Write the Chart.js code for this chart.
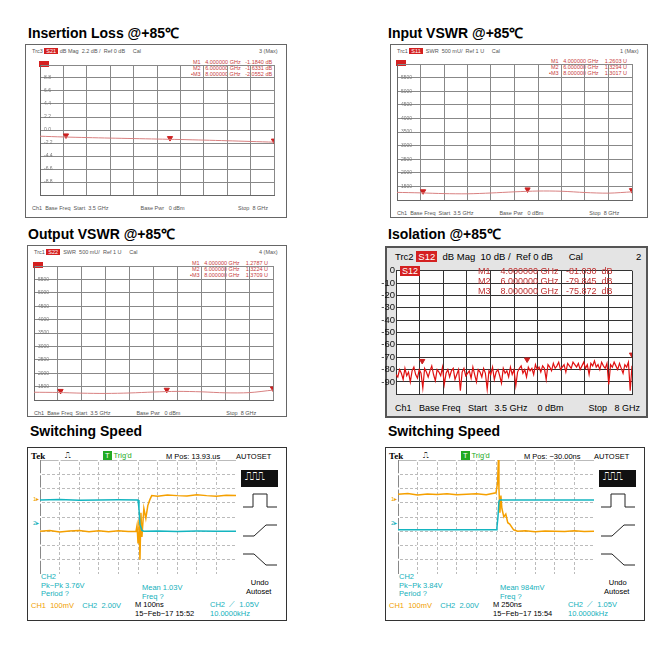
<!DOCTYPE html>
<html>
<head>
<meta charset="utf-8">
<script src="https://cdn.jsdelivr.net/npm/chart.js@4.4.1/dist/chart.umd.min.js"></script>
<style>
  body { margin: 0; width: 668px; height: 647px; background: #fff; position: relative; font-family: "Liberation Sans", Arial, sans-serif; overflow: hidden; }
  .abs { position: absolute; white-space: pre; }
  .title { font-weight: bold; font-size: 14px; color: #000; }
  .box { position: absolute; box-sizing: border-box; }
  .vna { border: 1px solid #666; background: #fff; }
  .small { font-size: 5.5px; color: #555; }
  .red { color: #c84040; }
  .tag { background: #d42020; color: #fff; padding: 0 2px; }
  .cw { position: absolute; }
  .scope { border: 1px solid #333; background: #fff; }
  .st { font-size: 7.5px; }
  .cy { color: #14b0bb; }
  .or { color: #f0a000; }
</style>
</head>
<body>
<script>
// ---- data ----
const freqs = [3.5, 3.95, 4.4, 4.85, 5.3, 5.75, 6.2, 6.65, 7.1, 7.55, 8.0];
const markerFreqs = [4, 6, 8];

const lossValues = [-1.05, -1.18, -1.28, -1.37, -1.45, -1.53, -1.61, -1.71, -1.82, -1.94, -2.06];
const lossMarkers = [-1.184, -1.633, -2.055];
const lossTicks = ['8.8', '6.6', '4.4', '2.2', '0.0', '-2.2', '-4.4', '-6.6', '-8.8'];

const inVswrValues = [1280, 1262, 1235, 1228, 1258, 1300, 1330, 1322, 1275, 1252, 1300];
const inVswrMarkers = [1260, 1329, 1302];
const vswrTicks = ['5500', '5000', '4500', '4000', '3500', '3000', '2500', '2000', '1500'];

const outVswrValues = [1290, 1280, 1255, 1245, 1262, 1298, 1322, 1305, 1268, 1275, 1370];
const outVswrMarkers = [1279, 1322, 1370];

const isoValues = [-84,-86,-80,-83,-88,-79,-85,-82,-90,-81,-78,-84,-87,-80,-83,-95,-79,-82,-86,-81,
  -77,-84,-89,-80,-82,-85,-78,-92,-83,-80,-86,-81,-79,-88,-84,-80,-97,-82,-79,-85,
  -83,-81,-87,-78,-84,-90,-80,-82,-86,-79,-83,-96,-81,-84,-78,-88,-82,-80,-85,-91,
  -79,-83,-81,-86,-78,-84,-80,-93,-82,-79,-77,-83,-80,-86,-78,-81,-79,-84,-76,-80,
  -78,-82,-77,-79,-88,-76,-78,-81,-75,-79,-77,-74,-80,-78,-76,-82,-75,-77,-79,-74,
  -76,-78,-75,-80,-77,-74,-79,-76,-84,-75,-77,-73,-78,-76,-80,-74,-77,-79,-75,-92,
  -76,-78,-74,-77,-80,-75,-79,-83,-76,-78,-74,-97,-77];
const isoMarkers = [-81.03, -79.845, -75.872];
const isoTicks = ['0', '-10', '-20', '-30', '-40', '-50', '-60', '-70', '-80', '-90'];

// scope 1 (divisions: x 0..10, y 0..8)
const s1CyanX = [0, 1, 2, 3, 4, 5, 5.05, 5.1, 5.2, 5.3, 6, 7, 8, 9, 10];
const s1CyanY = [5.2, 5.22, 5.18, 5.2, 5.21, 5.19, 4.6, 3.5, 3.05, 3.0, 3.02, 2.99, 3.01, 3.0, 3.0];
const s1OrX = [0, 0.5, 1, 1.5, 2, 2.5, 3, 3.5, 4, 4.5, 4.9, 4.95, 5.0, 5.05, 5.1, 5.15, 5.2, 5.3, 5.4, 5.5, 5.6, 5.7, 6, 6.5, 7, 7.5, 8, 8.5, 9, 9.5, 10];
const s1OrY = [3.0, 3.05, 2.95, 3.02, 3.06, 2.97, 3.03, 2.96, 3.04, 2.98, 3.0, 3.4, 2.2, 3.8, 1.0, 4.3, 2.6, 4.6, 3.9, 4.8, 5.2, 5.5, 5.45, 5.55, 5.5, 5.48, 5.56, 5.5, 5.46, 5.53, 5.5];
// scope 2
const s2CyanX = [0, 1, 2, 3, 4, 5, 5.05, 5.1, 5.15, 5.2, 6, 7, 8, 9, 10];
const s2CyanY = [3.1, 3.1, 3.1, 3.1, 3.1, 3.1, 3.3, 4.0, 5.1, 5.2, 5.2, 5.2, 5.2, 5.2, 5.2];
const s2OrX = [0, 0.5, 1, 1.5, 2, 2.5, 3, 3.5, 4, 4.5, 5.0, 5.08, 5.12, 5.15, 5.2, 5.25, 5.3, 5.4, 5.5, 5.6, 5.7, 5.9, 6.1, 6.5, 7, 7.5, 8, 8.5, 9, 9.5, 10];
const s2OrY = [5.6, 5.65, 5.55, 5.62, 5.58, 5.64, 5.57, 5.6, 5.63, 5.56, 5.7, 6.4, 8.0, 6.0, 4.3, 5.5, 4.6, 4.0, 4.2, 3.6, 3.5, 3.1, 3.0, 3.03, 2.97, 3.02, 3.0, 2.98, 3.04, 2.99, 3.0];

// ---- helpers ----
function el(cls, x, y, html, style) {
  const d = document.createElement('div');
  d.className = cls;
  d.style.left = x + 'px';
  d.style.top = y + 'px';
  if (style) Object.assign(d.style, style);
  d.innerHTML = html;
  document.body.appendChild(d);
  return d;
}

function canvasAt(x, y, w, h) {
  const wrap = el('cw', x, y, '', { width: w + 'px', height: h + 'px' });
  const c = document.createElement('canvas');
  wrap.appendChild(c);
  return c;
}

function pts(xs, ys) { return xs.map((x, i) => ({ x: x, y: ys[i] })); }

function vnaChart(canvas, values, markers, yMin, yMax, step, tickLabels) {
  const markerPts = markers.map((v, i) => ({ x: markerFreqs[i], y: v + (yMax - yMin) * 0.012 }));
  new Chart(canvas, {
    type: 'line',
    data: {
      datasets: [
        { data: pts(freqs, values), borderColor: '#d88080', borderWidth: 1, pointRadius: 0, tension: 0.3 },
        { data: markerPts, showLine: false, pointStyle: 'triangle', rotation: 180, pointRadius: 3,
          backgroundColor: '#cc2020', borderColor: '#cc2020' }
      ]
    },
    options: {
      animation: false, responsive: true, maintainAspectRatio: false,
      layout: { padding: 0 },
      plugins: { legend: { display: false }, tooltip: { enabled: false } },
      scales: {
        x: { type: 'linear', min: 3.5, max: 8, ticks: { display: false, stepSize: 0.45 },
             grid: { color: '#888', drawTicks: false }, border: { color: '#666' } },
        y: { min: yMin, max: yMax, afterFit: s => { s.width = 0; },
             ticks: { stepSize: step, mirror: true, padding: 4, color: '#777', font: { size: 5 }, autoSkip: false,
               callback: (v, i, arr) => (i === 0 || i === arr.length - 1) ? '' : tickLabels[arr.length - 2 - i] },
             grid: { color: '#888', drawTicks: false }, border: { color: '#666' } }
      }
    }
  });
}

function vnaPanel(bx, by, bw, bh, px, py, pw, ph, head, right, marks, foot, values, markers, yMin, yMax, step, ticks) {
  el('box vna', bx, by, '', { width: bw + 'px', height: bh + 'px' });
  el('abs small', bx + 7, by + 4, head);
  el('abs small', bx + bw - 28, by + 4, right);
  el('abs small red', px + pw - 88, py + 1, marks.join('<br>'), { lineHeight: '6px', textAlign: 'right' });
  el('abs small', px + 4, py + 3, '<span class="tag">&nbsp;&nbsp;&nbsp;&nbsp;</span>');
  el('abs small', bx + 7, py + ph + 3, foot);
  vnaChart(canvasAt(px, py, pw, ph), values, markers, yMin, yMax, step, ticks);
}

// ---- titles ----
el('abs title', 28, 23, 'Insertion Loss @+85℃');
el('abs title', 388, 23, 'Input VSWR @+85℃');
el('abs title', 28, 224, 'Output VSWR @+85℃');
el('abs title', 388, 224, 'Isolation @+85℃');
el('abs title', 30, 423, 'Switching Speed');
el('abs title', 388, 423, 'Switching Speed');

// ---- panel 1: insertion loss ----
vnaPanel(25, 44, 262, 174, 35, 58, 244, 144,
  'Trc3 <span class="tag">S21</span> dB Mag  2.2 dB /  Ref 0 dB     Cal', '3 (Max)',
  ['M1   4.000000 GHz   -1.1840 dB', 'M2   6.000000 GHz   -1.6331 dB', '•M3   8.000000 GHz   -2.0552 dB'],
  'Ch1  Base Freq  Start  3.5 GHz                     Base Pwr   0 dBm                                   Stop  8 GHz',
  lossValues, lossMarkers, -11, 11, 2.2, lossTicks);

// ---- panel 2: input VSWR ----
vnaPanel(390, 44, 258, 174, 392, 57, 245, 150,
  'Trc1 <span class="tag">S11</span>  SWR  500 mU/  Ref 1 U     Cal', '1 (Max)',
  ['M1   4.000000 GHz    1.2603 U', 'M2   6.000000 GHz    1.3294 U', '•M3   8.000000 GHz    1.3017 U'],
  'Ch1  Base Freq  Start  3.5 GHz                 Base Pwr   0 dBm                              Stop  8 GHz',
  inVswrValues, inVswrMarkers, 1000, 6000, 500, vswrTicks);

// ---- panel 3: output VSWR ----
vnaPanel(27, 245, 260, 172, 29, 259, 249, 148,
  'Trc1 <span class="tag">S22</span>  SWR  500 mU/  Ref 1 U     Cal', '4 (Max)',
  ['M1   4.000000 GHz    1.2787 U', 'M2   6.000000 GHz    1.3224 U', '•M3   8.000000 GHz    1.3709 U'],
  'Ch1  Base Freq  Start  3.5 GHz                 Base Pwr   0 dBm                              Stop  8 GHz',
  outVswrValues, outVswrMarkers, 1000, 6000, 500, vswrTicks);

// ---- panel 4: isolation ----
el('box', 385, 246, '', { width: '263px', height: '172px', background: '#e4e4e4', border: '2px solid #555' });
el('abs', 395, 251, 'Trc2 <span style="background:#d42020;color:#fff;padding:0 2px">S12</span>  dB Mag  10 dB /  Ref 0 dB      Cal', { fontSize: '9.5px' });
el('abs', 636, 251, '2', { fontSize: '9.5px' });
el('abs', 395, 403, 'Ch1   Base Freq   Start   3.5 GHz    0 dBm          Stop   8 GHz', { fontSize: '9px' });
const isoFreqs = isoValues.map((v, i) => 3.5 + i * 4.5 / (isoValues.length - 1));
new Chart(canvasAt(376, 264, 261, 137), {
  type: 'line',
  data: {
    datasets: [
      { data: pts(isoFreqs, isoValues), borderColor: '#e01010', borderWidth: 1.2, pointRadius: 0 },
      { data: isoMarkers.map((v, i) => ({ x: markerFreqs[i], y: v + 8 })), showLine: false, pointStyle: 'triangle',
        rotation: 180, pointRadius: 3, backgroundColor: '#cc2020', borderColor: '#cc2020' }
    ]
  },
  options: {
    animation: false, responsive: true, maintainAspectRatio: false,
    layout: { padding: 0 },
    plugins: { legend: { display: false }, tooltip: { enabled: false } },
    scales: {
      x: { type: 'linear', min: 3.5, max: 8, ticks: { display: false, stepSize: 0.45 },
           grid: { color: '#333', drawTicks: false }, border: { color: '#333' } },
      y: { min: -100, max: 0, afterFit: s => { s.width = 20; },
           ticks: { stepSize: 10, color: '#111', font: { size: 9.5 }, padding: 1, autoSkip: false,
             callback: v => { const k = Math.round(-v / 10); return k < isoTicks.length ? isoTicks[k] : ''; } },
           grid: { color: '#333', drawTicks: false }, border: { color: '#333' } }
    }
  },
  plugins: [{
    id: 'plotBg',
    beforeDraw(chart) {
      const { ctx, chartArea: a } = chart;
      ctx.save(); ctx.fillStyle = '#fff'; ctx.fillRect(a.left, a.top, a.right - a.left, a.bottom - a.top); ctx.restore();
    }
  }]
});
el('abs', 400, 266, 'S12', { fontSize: '9px', background: '#d42020', color: '#fff', padding: '0 2px' });
el('abs', 478, 266, 'M1    4.000000 GHz   -81.030  dB<br>M2    6.000000 GHz   -79.845  dB<br>M3    8.000000 GHz   -75.872  dB',
  { fontSize: '9px', color: '#c03030', lineHeight: '10px', textAlign: 'right' });

// ---- scopes ----
function scope(bx, cyanX, cyanY, orX, orY, mpos, peak, mean, mTime, stamp) {
  const by = 447;
  el('box scope', bx, by, '', { width: '260px', height: '174px' });
  el('abs', bx + 4, by + 4, 'Tek', { fontSize: '9px', fontWeight: 'bold', fontFamily: '"Liberation Serif", serif' });
  el('abs st', bx + 38, by + 4, '⎍', { color: '#333' });
  el('abs st', bx + 76, by + 4, '<span style="background:#2a2;color:#fff;padding:0 2px">T</span> <span style="color:#2a2">Trig\'d</span>');
  el('abs st', bx + 139, by + 5, 'M Pos: ' + mpos);
  el('abs st', bx + 209, by + 5, 'AUTOSET');
  el('abs st', bx + 6, by + 48, '1▸', { color: '#f0a000', fontSize: '6px' });
  el('abs st', bx + 6, by + 72, '2▸', { color: '#14b0bb', fontSize: '6px' });
  // menu icons
  el('box', bx + 214, by + 23, '', { width: '37px', height: '17px', background: '#111' });
  el('abs', bx + 218, by + 23, '⎍⎍⎍', { color: '#fff', fontSize: '11px', letterSpacing: '-2px' });
  el('abs', bx + 215, by + 44, '<svg width="36" height="18"><polyline points="1,16 11,16 11,3 25,3 25,16 35,16" fill="none" stroke="#222"/></svg>');
  el('abs', bx + 215, by + 75, '<svg width="36" height="16"><polyline points="1,14 12,14 24,3 35,3" fill="none" stroke="#222"/></svg>');
  el('abs', bx + 215, by + 104, '<svg width="36" height="16"><polyline points="1,3 12,3 24,14 35,14" fill="none" stroke="#222"/></svg>');
  el('abs st', bx + 219, by + 131, ' Undo<br>Autoset', { textAlign: 'center', lineHeight: '9px' });
  el('abs st cy', bx + 14, by + 126, 'CH2<br>Pk−Pk ' + peak + '<br>Period ?', { lineHeight: '8.5px' });
  el('abs st cy', bx + 115, by + 137, 'Mean ' + mean + '<br>Freq ?', { lineHeight: '8.5px' });
  el('abs st', bx + 4, by + 154, '<span class="or">CH1  100mV</span>    <span class="cy">CH2  2.00V</span>', {});
  el('abs st', bx + 108, by + 154, 'M ' + mTime + '<br>15−Feb−17 ' + stamp, { lineHeight: '8.5px' });
  el('abs st cy', bx + 183, by + 154, 'CH2  ⟋  1.05V<br>10.0000kHz', { lineHeight: '8.5px' });
  new Chart(canvasAt(bx + 13, by + 13, 196, 114), {
    type: 'line',
    data: {
      datasets: [
        { data: pts(cyanX, cyanY), borderColor: '#14b5c0', borderWidth: 1.5, pointRadius: 0 },
        { data: pts(orX, orY), borderColor: '#f5a000', borderWidth: 1.5, pointRadius: 0 }
      ]
    },
    options: {
      animation: false, responsive: true, maintainAspectRatio: false,
      layout: { padding: 0 },
      plugins: { legend: { display: false }, tooltip: { enabled: false } },
      scales: {
        x: { type: 'linear', min: 0, max: 10, ticks: { display: false, stepSize: 1 },
             grid: { color: '#bbb', drawTicks: false }, border: { color: '#888' } },
        y: { min: 0, max: 8, ticks: { display: false, stepSize: 1 },
             grid: { color: '#bbb', drawTicks: false }, border: { color: '#888' } }
      }
    },
    plugins: [{
      id: 'dots',
      beforeDatasetsDraw(chart) {
        // dotted look for the grid: overwrite solid lines with white gaps
        const { ctx, chartArea: a } = chart;
        ctx.save();
        ctx.strokeStyle = '#fff';
        ctx.lineWidth = 2;
        ctx.setLineDash([2, 3]);
        chart.scales.x.ticks.forEach(t => {
          const x = chart.scales.x.getPixelForValue(t.value);
          if (x > a.left + 1 && x < a.right - 1) { ctx.beginPath(); ctx.moveTo(x, a.top); ctx.lineTo(x, a.bottom); ctx.stroke(); }
        });
        chart.scales.y.ticks.forEach(t => {
          const y = chart.scales.y.getPixelForValue(t.value);
          if (y > a.top + 1 && y < a.bottom - 1) { ctx.beginPath(); ctx.moveTo(a.left, y); ctx.lineTo(a.right, y); ctx.stroke(); }
        });
        ctx.restore();
      }
    }]
  });
}

scope(27, s1CyanX, s1CyanY, s1OrX, s1OrY, '13.93.us', '3.76V', '1.03V', '100ns', '15:52');
scope(385, s2CyanX, s2CyanY, s2OrX, s2OrY, '−30.00ns', '3.84V', '984mV', '250ns', '15:54');
</script>
</body>
</html>
